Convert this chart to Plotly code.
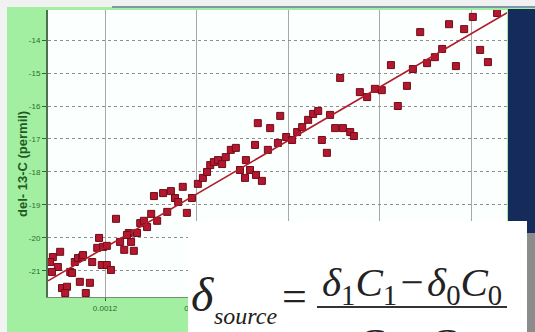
import plotly.graph_objects as go

# 1/[CO2] values (x) and del-13C (permil) values (y)
x_vals = [1.086, 1.097, 1.084, 1.106, 1.117, 1.113, 1.124, 1.128, 1.134, 1.141,
          1.150, 1.152, 1.145, 1.167, 1.158, 1.183, 1.187, 1.196, 1.193, 1.204,
          1.213, 1.204, 1.224, 1.233, 1.242, 1.252, 1.257, 1.263, 1.248, 1.270,
          1.277, 1.285, 1.292, 1.301, 1.307, 1.314, 1.327, 1.336, 1.344, 1.353,
          1.360, 1.370, 1.379, 1.390, 1.403, 1.080, 1.172, 1.102,
          1.414, 1.423, 1.430, 1.438, 1.447, 1.456, 1.464, 1.475, 1.486, 1.495,
          1.506, 1.517, 1.530, 1.543, 1.508, 1.528, 1.534, 1.561, 1.583, 1.556,
          1.578, 1.596, 1.609, 1.620, 1.631, 1.644, 1.655, 1.666, 1.674, 1.685,
          1.703, 1.720, 1.714, 1.692, 1.736, 1.744,
          1.757, 1.773, 1.790, 1.805, 1.825, 1.840, 1.860, 1.873, 1.889, 1.904,
          1.921, 1.937, 1.952, 1.967, 1.985, 2.004, 2.020, 2.037, 2.057]
x_vals = [v * 1e-3 for v in x_vals]
y_vals = [-20.58, -20.88, -21.03, -21.52, -21.48, -21.67, -21.03, -21.06, -20.73, -20.61,
          -20.58, -20.52, -21.33, -21.36, -21.67, -20.30, -20.00, -20.27, -20.82, -20.82,
          -20.97, -20.24, -19.42, -20.12, -20.36, -19.85, -20.12, -20.39, -19.91, -19.85,
          -19.55, -19.48, -19.67, -19.27, -18.73, -19.48, -18.64, -19.21, -18.58, -18.79,
          -18.91, -18.45, -19.24, -18.79, -18.36, -20.73, -20.73, -20.42,
          -18.18, -18.00, -17.79, -17.70, -17.64, -17.76, -17.55, -17.33, -17.27, -17.94,
          -18.18, -17.94, -18.09, -18.27, -17.64, -17.18, -16.52, -16.67, -16.30, -17.33,
          -17.12, -16.94, -17.03, -16.79, -16.64, -16.42, -16.24, -16.15, -17.03, -17.42,
          -16.67, -16.67, -15.15, -16.27, -16.79, -16.91,
          -15.58, -15.73, -15.48, -15.52, -14.76, -16.00, -15.39, -14.88, -13.76, -14.70,
          -14.52, -14.27, -13.52, -14.79, -13.67, -13.30, -14.30, -14.67, -13.18]

# regression line end points
fit_x = [0.0010754, 0.002079]
fit_y = [-21.30, -13.17]

x_ticks = [0.0012, 0.0014, 0.0016, 0.0018, 0.0020]
x_tick_labels = ["0.0012", "0.0014", "0.0016", "0.0018", "0.0020"]
y_ticks = [-14, -15, -16, -17, -18, -19, -20, -21]
y_tick_labels = ["-14", "-15", "-16", "-17", "-18", "-19", "-20", "-21"]

W, H = 535, 332
L, R, T, B = 48, 28, 10, 35
PW, PH = W - L - R, H - T - B


def px(x):
    return (x - L) / PW


def py(y):
    return (H - B - y) / PH


fig = go.Figure()
fig.add_trace(go.Scatter(x=x_vals, y=y_vals, mode="markers",
                         marker=dict(symbol="square", size=7, color="#b3182e",
                                     line=dict(color="#6e0c1a", width=1)),
                         showlegend=False))
fig.add_trace(go.Scatter(x=fit_x, y=fit_y, mode="lines",
                         line=dict(color="#b01c2a", width=1.6), showlegend=False))

shapes = []


def rect(x0, y0, x1, y1, color):
    shapes.append(dict(type="rect", xref="paper", yref="paper",
                       x0=px(x0), x1=px(x1), y0=py(y1), y1=py(y0),
                       fillcolor=color, line=dict(width=0), layer="above"))


rect(0, 0, 7, H, "#f3f3f3")
rect(0, 0, W, 7, "#f1f1f1")
rect(112, 6, W, 8, "#7d98a6")
rect(508, 9, W, 233, "#142b5c")
rect(508, 233, W, H, "#8c8c8c")
rect(188, 221, 527, H, "#ffffff")
shapes.append(dict(type="line", xref="paper", yref="paper",
                   x0=px(317), x1=px(507), y0=py(307), y1=py(307),
                   line=dict(color="#333333", width=2), layer="above"))

serif = "Liberation Serif"
ann = []


def text(t, x, y, size, xanchor="left", yanchor="middle"):
    ann.append(dict(text=t, x=px(x), y=py(y), xref="paper", yref="paper",
                    xanchor=xanchor, yanchor=yanchor, showarrow=False,
                    font=dict(family=serif, size=size, color="#222222")))


hs = "\u200a"
text("<i>δ</i>", 189, 294, 48)
text("<i>source</i>", 212, 316, 24)
text("=", 294, 296, 44, xanchor="center")
text("<i>δ</i><sub>1</sub><i>C</i><sub>1</sub>" + hs + "−" + hs +
     "<i>δ</i><sub>0</sub><i>C</i><sub>0</sub>", 320, 285, 41)
text("<i>C</i><sub>1</sub>" + hs + "−" + hs + "<i>C</i><sub>0</sub>", 354, 345, 41)

ann.append(dict(text="<b>del- 13-C (permil)</b>", x=px(22), y=py(164),
                xref="paper", yref="paper", textangle=-90, showarrow=False,
                xanchor="center", yanchor="middle",
                font=dict(family="Liberation Sans", size=13, color="#1f5a1f")))

fig.update_layout(
    width=W, height=H, margin=dict(l=L, r=R, t=T, b=B),
    paper_bgcolor="#a2efa2", plot_bgcolor="#fbfffe",
    shapes=shapes, annotations=ann, showlegend=False,
    xaxis=dict(range=[0.0010754, 0.0020787], tickvals=x_ticks, ticktext=x_tick_labels,
               showgrid=True, gridcolor="#a8a8a8", gridwidth=1,
               showline=True, linecolor="#7a8a7a", linewidth=1,
               ticks="outside", ticklen=3, tickcolor="#2d6b2d",
               tickfont=dict(family="Liberation Sans", size=8, color="#2d6b2d"),
               zeroline=False, fixedrange=True),
    yaxis=dict(range=[-21.79, -13.09], tickvals=y_ticks, ticktext=y_tick_labels,
               showgrid=True, gridcolor="#8f8f8f", gridwidth=1, griddash="dot",
               showline=True, linecolor="#4f6f4f", linewidth=2,
               ticks="outside", ticklen=4, tickcolor="#2d6b2d",
               tickfont=dict(family="Liberation Sans", size=8, color="#2d6b2d"),
               zeroline=False, fixedrange=True),
)

fig.write_html("out.html")
